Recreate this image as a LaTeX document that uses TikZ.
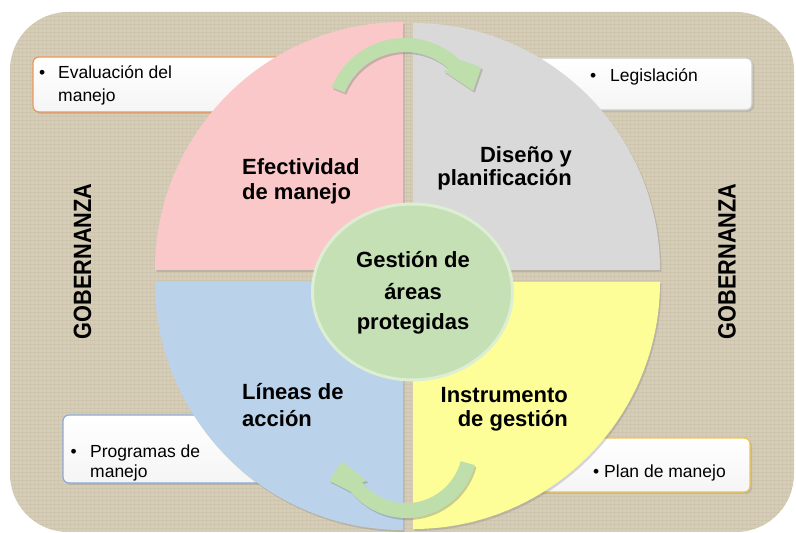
\documentclass[tikz,border=0pt]{standalone}
\usepackage{fontspec}
\usepackage{graphicx}
\setmainfont{Liberation Sans}
\usetikzlibrary{shapes.geometric,shadows,calc}
\definecolor{bgtan}{RGB}{214,205,184}
\definecolor{weave}{RGB}{170,158,130}
\definecolor{qpink}{RGB}{250,200,200}
\definecolor{qgray}{RGB}{217,217,217}
\definecolor{qblue}{RGB}{186,210,234}
\definecolor{qyellow}{RGB}{254,254,152}
\definecolor{cgreen}{RGB}{197,224,180}
\definecolor{cgreenb}{RGB}{222,238,210}
\definecolor{agreen}{RGB}{190,222,172}
\definecolor{borange}{RGB}{238,150,90}
\definecolor{bgrayb}{RGB}{205,205,205}
\definecolor{bblue}{RGB}{140,172,215}
\definecolor{bgold}{RGB}{240,196,80}
\begin{document}
\begin{tikzpicture}[x=1pt,y=1pt,
  lbl/.style={font=\fontsize{22}{26}\selectfont\bfseries, inner sep=0pt},
  boxtxt/.style={font=\fontsize{17.5}{21}\selectfont, inner sep=0pt},
  infobox/.style={rectangle, rounded corners=6pt, line width=1.2pt, top color=white, bottom color=gray!8,
     drop shadow={shadow xshift=2pt, shadow yshift=-2pt, opacity=0.25}},
  quad/.style={drop shadow={shadow xshift=1.5pt, shadow yshift=-2pt, opacity=0.3}},
  arrowband/.style={fill=agreen, drop shadow={shadow xshift=1.5pt, shadow yshift=-2pt, opacity=0.4}},
  gob/.style={rotate=90, inner sep=0pt}
]
\useasboundingbox (0,0) rectangle (796,533);
\fill[white] (0,0) rectangle (796,533);
\fill[bgtan, rounded corners=58pt] (10,1) rectangle (794,521);
\begin{scope}
  \clip[rounded corners=58pt] (10,1) rectangle (794,521);
  \foreach \k in {0,...,130} {
    \draw[weave, opacity=0.14, line width=0.8pt] (10,1+4*\k) -- (794,1+4*\k);
  }
  \foreach \k in {0,...,196} {
    \draw[weave, opacity=0.10, line width=0.8pt] (10+4*\k,1) -- (10+4*\k,521);
  }
\end{scope}

% info boxes (partly hidden under the quadrants)
\node[infobox, draw=borange, minimum width=257pt, minimum height=55pt] (evalbox) at (161.5,448.5) {};
\node[infobox, draw=bgrayb, minimum width=232pt, minimum height=52pt] (legbox) at (636,449) {};
\node[infobox, draw=bblue, minimum width=227pt, minimum height=68pt] (progbox) at (176.5,84) {};
\node[infobox, draw=bgold, minimum width=220pt, minimum height=54pt] (planbox) at (640,68) {};

% quadrants
\path[fill=qpink, quad] (403,263) -- (155,263) arc[start angle=180, end angle=90, radius=248pt] -- cycle;
\path[fill=qgray, quad] (413,263) -- (413,510) arc[start angle=90, end angle=0, radius=247pt] -- cycle;
\path[fill=qblue, quad] (403,251) -- (403,3) arc[start angle=270, end angle=180, radius=248pt] -- cycle;
\path[fill=qyellow, quad] (413,251) -- (660,251) arc[start angle=0, end angle=-90, radius=247pt] -- cycle;

% hub
\node[ellipse, fill=cgreen, draw=cgreenb, line width=3pt, minimum width=200pt, minimum height=176pt, inner sep=0pt] (hub) at (412.5,241) {};

% curved arrows
\coordinate (ct) at (405,416);
\path[arrowband] ($(ct)+(158:79)$) arc[start angle=158, end angle=47, radius=79pt]
  -- ($(ct)+(33:91)$) -- ($(ct)+(21:73)$) -- ($(ct)+(50:60)$) -- ($(ct)+(47:65)$)
  arc[start angle=47, end angle=158, radius=65pt] -- cycle;
\coordinate (cb) at (406,86.4);
\path[arrowband] ($(cb)+(-15:71.4)$) arc[start angle=-15, end angle=-141, radius=71.4pt]
  -- ($(cb)+(-156:84)$) -- ($(cb)+(-167:66)$) -- ($(cb)+(-139:52)$) -- ($(cb)+(-141:56.6)$)
  arc[start angle=-141, end angle=-15, radius=56.6pt] -- cycle;

% quadrant labels
\node[lbl, anchor=base west] (t1a) at (242,358) {Efectividad};
\node[lbl, anchor=base west] (t1b) at (242,333) {de manejo};
\node[lbl, anchor=base east] (t2a) at (572,370) {Diseño y};
\node[lbl, anchor=base east] (t2b) at (572,347) {planificación};
\node[lbl, anchor=base west] (t3a) at (242,133) {Líneas de};
\node[lbl, anchor=base west] (t3b) at (242,106) {acción};
\node[lbl, anchor=base east] (t4a) at (568,130) {Instrumento};
\node[lbl, anchor=base east] (t4b) at (568,106) {de gestión};

% hub text
\node[lbl, anchor=base] (h1) at (413,265) {Gestión de};
\node[lbl, anchor=base] (h2) at (413,233) {áreas};
\node[lbl, anchor=base] (h3) at (413,203) {protegidas};

% box texts
\node[boxtxt, anchor=base west] (eb) at (39,454) {•};
\node[boxtxt, anchor=base west] (e1) at (58,454) {Evaluación del};
\node[boxtxt, anchor=base west] (e2) at (58,431) {manejo};
\node[boxtxt, anchor=base west] (lb) at (590,451) {•};
\node[boxtxt, anchor=base west] (l1) at (610,451) {Legislación};
\node[boxtxt, anchor=base west] (pb) at (70.5,75) {•};
\node[boxtxt, anchor=base west] (p1) at (90,75) {Programas de};
\node[boxtxt, anchor=base west] (p2) at (90,55) {manejo};
\node[boxtxt, anchor=base west] (mb) at (593,55) {•};
\node[boxtxt, anchor=base west] (m1) at (604,55) {Plan de manejo};

% governance labels
\node[gob] (gl) at (82.5,271.5) {\scalebox{0.87}[1]{\fontsize{25}{30}\selectfont\bfseries GOBERNANZA}};
\node[gob] (gr) at (727,271.5) {\scalebox{0.87}[1]{\fontsize{25}{30}\selectfont\bfseries GOBERNANZA}};
\end{tikzpicture}
\end{document}
